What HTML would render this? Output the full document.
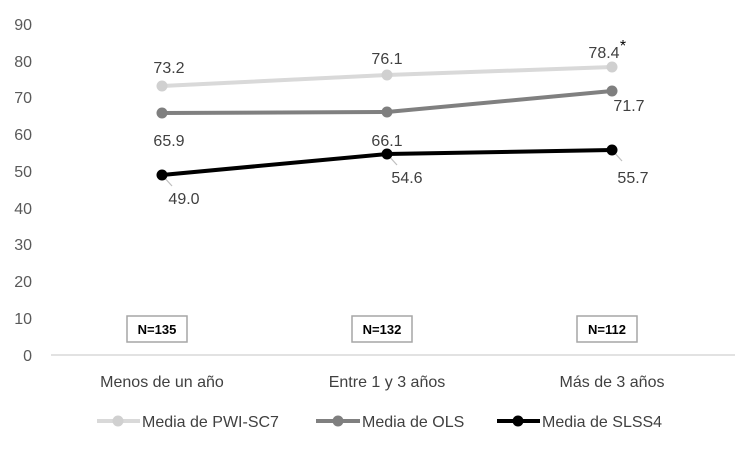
<!DOCTYPE html>
<html><head><meta charset="utf-8"><style>
body{margin:0;background:#fff}
svg text{font-family:"Liberation Sans",sans-serif}
</style></head><body>
<svg width="750" height="450" viewBox="0 0 750 450" xmlns="http://www.w3.org/2000/svg">
<g font-size="16" fill="#595959" text-anchor="end">
<text x="32" y="30">90</text><text x="32" y="67">80</text><text x="32" y="103">70</text>
<text x="32" y="140">60</text><text x="32" y="177">50</text><text x="32" y="214">40</text>
<text x="32" y="250">30</text><text x="32" y="287">20</text><text x="32" y="324">10</text>
<text x="32" y="361">0</text></g>
<line x1="51" y1="355" x2="735" y2="355" stroke="#d9d9d9" stroke-width="1.5"/>
<g fill="#fff" stroke="#a6a6a6" stroke-width="1.5">
<rect x="127" y="316" width="60" height="26"/><rect x="352" y="316" width="60" height="26"/><rect x="577" y="316" width="60" height="26"/></g>
<g font-size="13" font-weight="bold" fill="#000" text-anchor="middle">
<text x="157" y="334">N=135</text><text x="382" y="334">N=132</text><text x="607" y="334">N=112</text></g>
<g stroke="#bfbfbf" stroke-width="1.2">
<line x1="162" y1="175" x2="172" y2="186"/><line x1="387" y1="154" x2="397" y2="165"/><line x1="612" y1="150" x2="622" y2="161"/></g>
<polyline points="162,86 387,75 612,67" fill="none" stroke="#d9d9d9" stroke-width="4"/>
<polyline points="162,113 387,112 612,91" fill="none" stroke="#808080" stroke-width="4"/>
<polyline points="162,175 387,154 612,150" fill="none" stroke="#000" stroke-width="4"/>
<g fill="#d0d0d0"><circle cx="162" cy="86" r="5.5"/><circle cx="387" cy="75" r="5.5"/><circle cx="612" cy="67" r="5.5"/></g>
<g fill="#7f7f7f"><circle cx="162" cy="113" r="5.5"/><circle cx="387" cy="112" r="5.5"/><circle cx="612" cy="91" r="5.5"/></g>
<g fill="#000"><circle cx="162" cy="175" r="5.5"/><circle cx="387" cy="154" r="5.5"/><circle cx="612" cy="150" r="5.5"/></g>
<g font-size="16" fill="#404040" text-anchor="middle">
<text x="169" y="73">73.2</text><text x="387" y="64">76.1</text><text x="604" y="58">78.4</text>
<text x="623" y="51" font-size="16" fill="#000">*</text>
<text x="169" y="146">65.9</text><text x="387" y="146">66.1</text><text x="629" y="111">71.7</text>
<text x="184" y="204">49.0</text><text x="407" y="183">54.6</text><text x="633" y="183">55.7</text>
<text x="162" y="387">Menos de un año</text><text x="387" y="387">Entre 1 y 3 años</text><text x="612" y="387">Más de 3 años</text>
</g>
<line x1="97" y1="421" x2="140" y2="421" stroke="#d9d9d9" stroke-width="4"/><circle cx="118" cy="421" r="5.5" fill="#d0d0d0"/>
<line x1="316" y1="421" x2="360" y2="421" stroke="#808080" stroke-width="4"/><circle cx="338" cy="421" r="5.5" fill="#7f7f7f"/>
<line x1="497" y1="421" x2="540" y2="421" stroke="#000" stroke-width="4"/><circle cx="518" cy="421" r="5.5" fill="#000"/>
<g font-size="16" fill="#404040">
<text x="142" y="427">Media de PWI-SC7</text><text x="362" y="427">Media de OLS</text><text x="542" y="427">Media de SLSS4</text></g>
</svg>
</body></html>
